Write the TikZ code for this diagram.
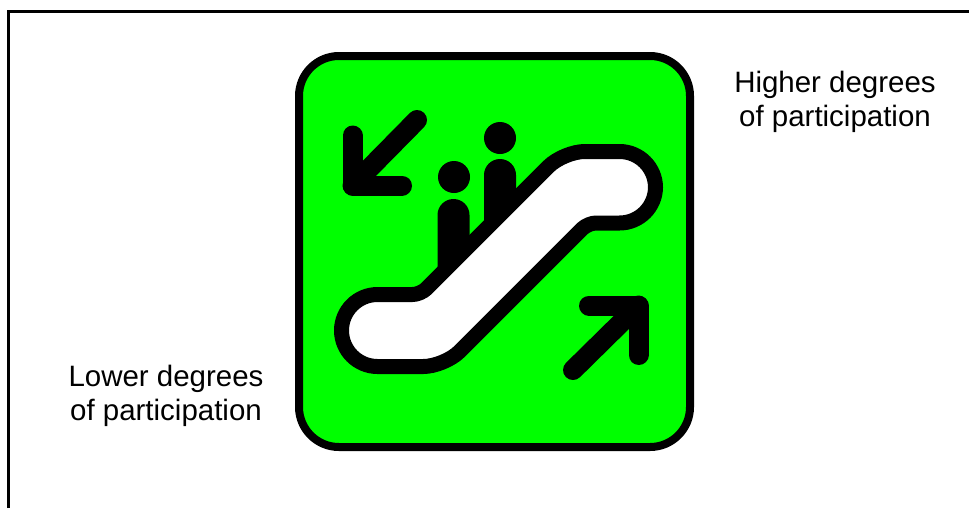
\documentclass[tikz,border=0pt]{standalone}
\usepackage{fontspec}
\setmainfont{Liberation Sans}
\definecolor{signgreen}{RGB}{0,255,0}
\tikzset{
	frameline/.style={black, line width=2.25pt},
	arrowbar/.style={black, line width=15pt, line cap=round, line join=round},
	caption/.style={align=center, font=\fontsize{22.1}{25.2}\selectfont},
	person/.style={fill=black, draw=none}
}

\begin{document}
\begin{tikzpicture}[x=0.75pt, y=-0.75pt]
	\useasboundingbox (0,0) rectangle (969,508);
	% outer frame
	\draw[frameline] (8,508) -- (8,11) -- (969,11);
	% sign
	\draw[fill=signgreen, line width=6pt, rounded corners=30pt] (299,56) rectangle (690,447);
	% left arrow
	\draw[arrowbar] (352.5,135.5) -- (352.5,185.5) -- (402,185.5);
	\draw[arrowbar] (352.5,185.5) -- (417,120);
	% right arrow
	\draw[arrowbar] (589,305.5) -- (638.5,305.5) -- (638.5,355);
	\draw[arrowbar] (638.5,305.5) -- (573,370);
	% people
	\fill[person] (454,177) circle[radius=16];
	\fill[person] (500,138) circle[radius=16];
	\fill[person] (437.5,290) -- (437.5,215) arc[start angle=180, end angle=360, radius=16] -- (469.5,262) -- cycle;
	\fill[person] (484,240) -- (484,175) arc[start angle=180, end angle=360, radius=16] -- (516,210) -- cycle;
	% escalator
	\draw[fill=white, line width=11.25pt, line join=round, line cap=round]
		[rounded corners=6pt] (385,294.5) -- (420.5,294.5)
		[rounded corners=16pt] -- (563.5,151.5)
		[rounded corners=27pt] -- (655.5,151.5) -- (655.5,223)
		[rounded corners=6pt] -- (588,223)
		[rounded corners=16pt] -- (444.5,366.5)
		[rounded corners=27pt] -- (341.5,366.5) -- (341.5,294.5) -- (385,294.5);
	% labels
	\node[caption] (higher) at (835,102) {Higher degrees\\of participation};
	\node[caption] (lower) at (166,396) {Lower degrees\\of participation};
\end{tikzpicture}
\end{document}
